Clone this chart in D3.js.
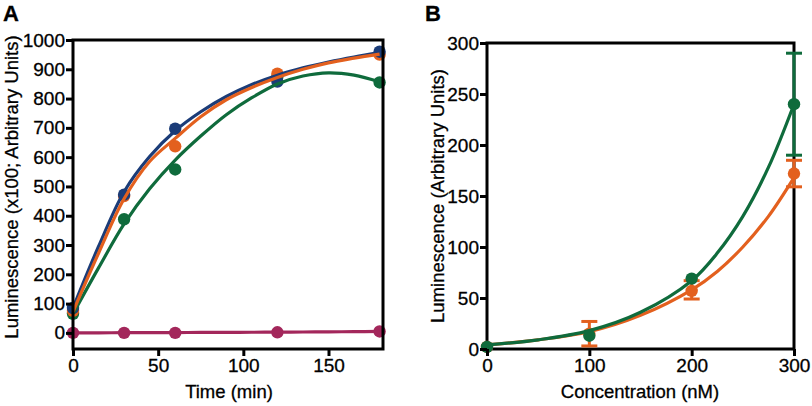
<!DOCTYPE html>
<html>
<head>
<meta charset="utf-8">
<script src="https://cdn.jsdelivr.net/npm/d3@7"></script>
<style>
  html, body { margin: 0; padding: 0; background: #fff; }
  svg { display: block; }
  text { font-family: "Liberation Sans", Arial, Helvetica, sans-serif; fill: #000; stroke: #000; stroke-width: 0.3px; }
</style>
</head>
<body>
<svg id="chart" width="812" height="406"></svg>
<script>
// ---------- Panel A data ----------
const timePoints = [0, 30, 60, 120, 180];
const blueValues    = [85, 472, 697, 858, 960];
const orangeValues  = [75, 467, 637, 885, 950];
const greenValues   = [65, 388, 558, 875, 855];
const magentaValues = [0, 0, 0, 2, 5];

// fitted curves
const fitTimes      = [0, 15, 30, 45, 60, 75, 90, 105, 120, 135, 150, 165, 180];
const blueFit       = [85, 295, 482, 602, 690, 755, 807, 848, 880, 905, 925, 942, 957];
const orangeFit     = [72, 272, 458, 585, 664, 738, 796, 838, 872, 900, 922, 938, 952];
const greenFit      = [65, 222, 372, 492, 590, 672, 745, 803, 850, 877, 888, 880, 857];
const magentaFit    = [0, 0.3, 0.6, 0.9, 1.2, 1.5, 1.8, 2.2, 2.6, 3.0, 3.6, 4.2, 5];

const xTicksA = [0, 50, 100, 150];
const yTicksA = [0, 100, 200, 300, 400, 500, 600, 700, 800, 900, 1000];

// ---------- Panel B data ----------
const concPoints   = [0, 100, 200, 300];
const greenB       = [2, 13, 69, 240];
const greenBLow    = [2, 13, 69, 190];
const greenBHigh   = [2, 13, 69, 290];
const orangeB      = [2, 15, 57, 172];
const orangeBLow   = [2, 3, 49, 159];
const orangeBHigh  = [2, 27, 67, 185];

const fitConc      = [0, 50, 100, 150, 200, 225, 250, 275, 300];
const greenBFit    = [4, 9, 18, 36, 67, 94, 130, 178, 240];
const orangeBFit   = [4, 9, 17, 33, 58, 76, 100, 130, 168];

const xTicksB = [0, 100, 200, 300];
const yTicksB = [0, 50, 100, 150, 200, 250, 300];

const C = { blue: "#1b3c78", orange: "#e3601e", green: "#0f6b3c", magenta: "#a3275b" };

const svg = d3.select("#chart");
const FS = "19px";

function drawFrame(g, x, y) {
  const [x0, x1] = x.range(), [y0, y1] = y.range();
  g.append("rect").attr("x", x0).attr("y", y1).attr("width", x1 - x0).attr("height", y0 - y1)
    .attr("fill", "none").attr("stroke", "#000").attr("stroke-width", 3);
}

function drawAxes(g, x, y, xt, yt) {
  const xa = g.append("g").attr("transform", `translate(0,${y.range()[0]})`)
    .call(d3.axisBottom(x).tickValues(xt).tickSize(7).tickPadding(3).tickFormat(d3.format("d")));
  const ya = g.append("g").attr("transform", `translate(${x.range()[0]},0)`)
    .call(d3.axisLeft(y).tickValues(yt).tickSize(7).tickPadding(1).tickFormat(d3.format("d")));
  [xa, ya].forEach(a => {
    a.select(".domain").remove();
    a.selectAll(".tick line").attr("stroke", "#000").attr("stroke-width", 3);
    a.selectAll(".tick text").style("font-size", FS).attr("fill", "#000");
  });
}

// ---------- Panel A ----------
const gA = svg.append("g");
const xA = d3.scaleLinear().domain([0, 182]).range([73, 383]);
const yA = d3.scaleLinear().domain([-55, 1000]).range([349, 40]);

const lineA = d3.line().x(d => xA(d[0])).y(d => yA(d[1])).curve(d3.curveCatmullRom);
const seriesA = [
  { fit: magentaFit, pts: magentaValues, c: C.magenta },
  { fit: greenFit, pts: greenValues, c: C.green },
  { fit: orangeFit, pts: orangeValues, c: C.orange },
  { fit: blueFit, pts: blueValues, c: C.blue }
];
seriesA.forEach(s => {
  gA.selectAll(null).data(timePoints.map((t, i) => [t, s.pts[i]])).enter().append("circle")
    .attr("cx", d => xA(d[0])).attr("cy", d => yA(d[1])).attr("r", 6.2).attr("fill", s.c);
});
[seriesA[1], seriesA[3], seriesA[2], seriesA[0]].forEach(s => {
  gA.append("path").datum(fitTimes.map((t, i) => [t, s.fit[i]])).attr("d", lineA)
    .attr("fill", "none").attr("stroke", s.c).attr("stroke-width", 3.2);
});
drawFrame(gA, xA, yA);
drawAxes(gA, xA, yA, xTicksA, yTicksA);

gA.append("text").attr("x", 3).attr("y", 21).style("font-size", "22px").style("font-weight", "bold").text("A");
gA.append("text").attr("transform", `translate(18,${187}) rotate(-90)`).attr("text-anchor", "middle")
  .style("font-size", "18.5px").text("Luminescence (x100; Arbitrary Units)");
gA.append("text").attr("x", 229).attr("y", 398).attr("text-anchor", "middle")
  .style("font-size", "18.5px").text("Time (min)");

// ---------- Panel B ----------
const gB = svg.append("g");
const xB = d3.scaleLinear().domain([0, 300]).range([487, 794]);
const yB = d3.scaleLinear().domain([0, 300]).range([349, 43]);
const lineB = d3.line().x(d => xB(d[0])).y(d => yB(d[1])).curve(d3.curveCatmullRom);

const seriesB = [
  { v: orangeB, lo: orangeBLow, hi: orangeBHigh, fit: orangeBFit, c: C.orange },
  { v: greenB, lo: greenBLow, hi: greenBHigh, fit: greenBFit, c: C.green }
];
drawFrame(gB, xB, yB);
seriesB.forEach(s => {
  concPoints.forEach((cx, i) => {
    if (s.hi[i] - s.lo[i] < 1) return;
    const X = xB(cx);
    gB.append("line").attr("x1", X).attr("x2", X).attr("y1", yB(s.lo[i])).attr("y2", yB(s.hi[i]))
      .attr("stroke", s.c).attr("stroke-width", 3);
    [s.lo[i], s.hi[i]].forEach(v => {
      gB.append("line").attr("x1", X - 8).attr("x2", X + 8).attr("y1", yB(v)).attr("y2", yB(v))
        .attr("stroke", s.c).attr("stroke-width", 3);
    });
  });
});
seriesB.forEach(s => {
  gB.append("path").datum(fitConc.map((t, i) => [t, s.fit[i]])).attr("d", lineB)
    .attr("fill", "none").attr("stroke", s.c).attr("stroke-width", 3.2);
  gB.selectAll(null).data(concPoints.map((t, i) => [t, s.v[i]])).enter().append("circle")
    .attr("cx", d => xB(d[0])).attr("cy", d => yB(d[1])).attr("r", 6.2).attr("fill", s.c);
});
drawAxes(gB, xB, yB, xTicksB, yTicksB);

gB.append("text").attr("x", 425).attr("y", 21).style("font-size", "22px").style("font-weight", "bold").text("B");
gB.append("text").attr("transform", `translate(444,${196}) rotate(-90)`).attr("text-anchor", "middle")
  .style("font-size", "18.5px").text("Luminescence (Arbitrary Units)");
gB.append("text").attr("x", 640).attr("y", 398).attr("text-anchor", "middle")
  .style("font-size", "18.5px").text("Concentration (nM)");
</script>
</body>
</html>
